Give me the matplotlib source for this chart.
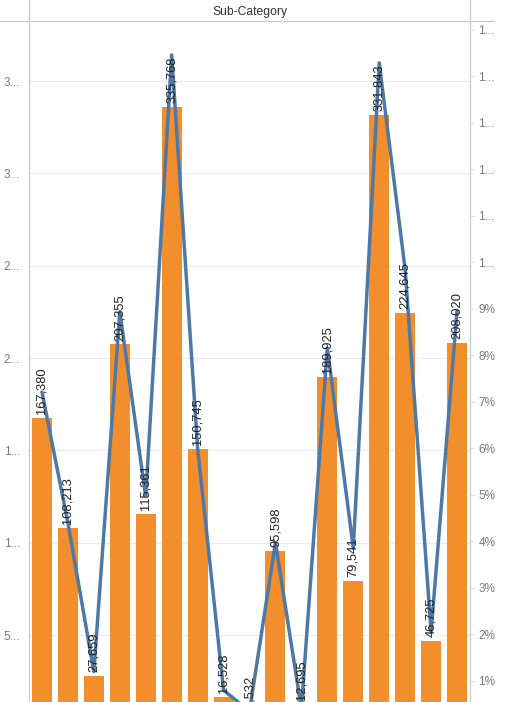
import numpy as np
import matplotlib
matplotlib.use('Agg')
import matplotlib.pyplot as plt
from matplotlib.lines import Line2D

plt.rcParams['font.family'] = ['Liberation Sans', 'DejaVu Sans']

# Data (17 sub-categories, alphabetical order)
sub_categories = ['Accessories', 'Appliances', 'Art', 'Binders', 'Bookcases', 'Chairs',
                  'Copiers', 'Envelopes', 'Fasteners', 'Furnishings', 'Labels', 'Machines',
                  'Paper', 'Phones', 'Storage', 'Supplies', 'Tables']
sales = [167380, 108213, 27659, 207355, 115361, 335768, 150745, 16528, 8532,
         95598, 12695, 189925, 79541, 331843, 224645, 46725, 208020]
pct_line = [7.21, 4.4, 1.2, 8.94, 4.96, 14.46, 6.0, 0.8, 0.35,
            3.97, 0.4, 8.16, 3.86, 14.29, 9.85, 2.05, 8.95]

left_ticks = [50000, 100000, 150000, 200000, 250000, 300000, 350000]
left_labels = ['5...', '1...', '1...', '2...', '2...', '3...', '3...']
right_ticks = list(range(1, 16))
right_labels = ['1%', '2%', '3%', '4%', '5%', '6%', '7%', '8%', '9%',
                '1...', '1...', '1...', '1...', '1...', '1...']

bar_color = '#F28E2B'
line_color = '#4E79A7'
grey = '#c9c9c9'

W, H = 510, 702
fig = plt.figure(figsize=(W / 100, H / 100), dpi=100)

# axes area: x 29..470 px, y 21..727 px (bottom is cropped off the image)
x0, x1 = 29, 470
y_top, y_zero = 21, 727.4
ax1 = fig.add_axes([x0 / W, (H - y_zero) / H, (x1 - x0) / W, (y_zero - y_top) / H])
ax2 = ax1.twinx()

x = np.arange(len(sub_categories))
ax1.bar(x, sales, width=0.77, color=bar_color, zorder=2)
ax1.set_xlim(-0.5, len(x) - 0.5)
ax1.set_ylim(0, 382500)
ax1.set_yticks(left_ticks)
ax1.set_yticklabels(left_labels)
ax1.set_xticks([])
ax1.grid(axis='y', color='#ececec', linewidth=0.8, zorder=0)
ax1.set_axisbelow(True)
ax1.tick_params(axis='y', length=0, pad=6.5, labelsize=8.5, labelcolor='#7a7a7a')

ax2.plot(x, pct_line, color=line_color, linewidth=2.5, solid_joinstyle='round',
         solid_capstyle='round', zorder=3)
ax2.set_ylim(0, 15.19)
ax2.set_yticks(right_ticks)
ax2.set_yticklabels(right_labels)
ax2.tick_params(axis='y', length=3, width=0.6, color='#d8d8d8', pad=3,
                labelsize=8.5, labelcolor='#7a7a7a')

for ax in (ax1, ax2):
    for s in ax.spines.values():
        s.set_visible(False)

# value labels above each bar, drawn over the line
for xi, v in zip(x, sales):
    ax2.annotate(f'{v:,}', xy=(xi, v), xycoords=ax1.transData,
                 xytext=(0, 2.8), textcoords='offset points',
                 rotation=90, ha='center', va='bottom', fontsize=9.3,
                 color='#222222', zorder=5)

# header and frame lines
fig.text((x0 + x1) / 2 / W, 1 - 12 / H, 'Sub-Category', ha='center', va='center',
         fontsize=8.7, color='#333333')
fig.add_artist(Line2D([0, 493 / W], [1 - y_top / H] * 2, color=grey, linewidth=0.9))
fig.add_artist(Line2D([x0 / W] * 2, [0, 1], color=grey, linewidth=0.9))
fig.add_artist(Line2D([x1 / W] * 2, [0, 1], color=grey, linewidth=0.9))

fig.savefig('out.png', dpi=100)
